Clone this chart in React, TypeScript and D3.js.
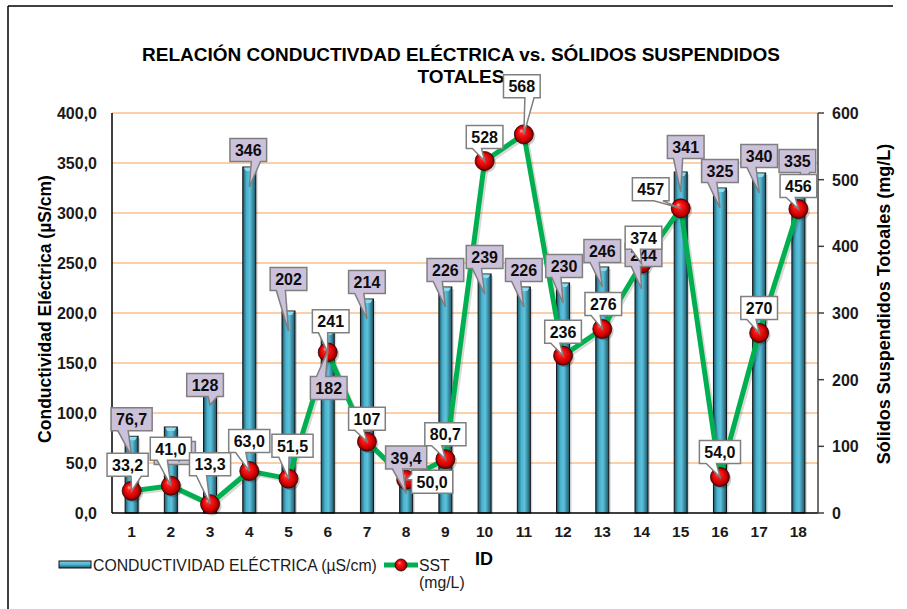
import React from 'react';
import * as d3 from 'd3';

// chart data
const ids = ['1', '2', '3', '4', '5', '6', '7', '8', '9', '10', '11', '12', '13', '14', '15', '16', '17', '18'];
const conductividad = [76.7, 86.0, 128, 346, 202, 182, 214, 39.4, 226, 239, 226, 230, 246, 244, 341, 325, 340, 335];
const sst = [33.2, 41.0, 13.3, 63.0, 51.5, 241, 107, 50.0, 80.7, 528, 568, 236, 276, 374, 457, 54.0, 270, 456];
const leftTicks = [0, 50, 100, 150, 200, 250, 300, 350, 400];
const rightTicks = [0, 100, 200, 300, 400, 500, 600];

// callout nudges (px) – label placement as in the source sheet
const barLabelShift = [[0, -17], [4, 26], [-5, 0], [-1, -17], [0, -32], [1, 57], [0, -17], [0, -16], [0, -17], [0, -17], [0, -17], [1, -17], [0, -16], [2, -14], [5, -25], [0, -17], [0, -17], [-1, -17]];
const sstLabelShift = [[-4, -26], [0, -37], [0, -40], [0, -30], [4, -33], [3, -31], [0, -23], [26, 2], [0, -25], [0, -24], [-2, -48], [0, -24], [1, -25], [2, -26], [-30, -19], [0, -25], [0, -25], [0, -23]];

const FONT = 'Arial, "Liberation Sans", sans-serif';
const W = 907;
const H = 609;
const margin = { top: 113, right: 89, bottom: 96, left: 112 };

const fmtLabel = (v: number) => (v < 100 ? v.toFixed(1).replace('.', ',') : String(Math.round(v)));

// Office "wedgeRectCallout" outline
function calloutPath(cx: number, cy: number, w: number, h: number, tx: number, ty: number) {
  const l = cx - w / 2, r = cx + w / 2, t = cy - h / 2, b = cy + h / 2;
  const dx = tx - cx, dy = ty - cy;
  const dq = (dx * h) / w;
  const dz = Math.abs(dy) - Math.abs(dq);
  const p: [number, number][] = [];
  if (dz > 0) {
    const x1 = l + (w * (dx > 0 ? 7 : 2)) / 12;
    const x2 = l + (w * (dx > 0 ? 10 : 5)) / 12;
    if (dy < 0) {
      p.push([l, t], [x1, t], [tx, ty], [x2, t], [r, t], [r, b], [l, b]);
    } else {
      p.push([l, t], [r, t], [r, b], [x2, b], [tx, ty], [x1, b], [l, b]);
    }
  } else {
    const y1 = t + (h * (dy > 0 ? 7 : 2)) / 12;
    const y2 = t + (h * (dy > 0 ? 10 : 5)) / 12;
    if (dx < 0) {
      p.push([l, t], [r, t], [r, b], [l, b], [l, y2], [tx, ty], [l, y1]);
    } else {
      p.push([l, t], [r, t], [r, y1], [tx, ty], [r, y2], [r, b], [l, b]);
    }
  }
  return 'M' + p.map(d => d.join(',')).join('L') + 'Z';
}

const textWidth = (s: string) => {
  let w = 0;
  for (const c of s) w += c === ',' ? 0.278 : 0.556;
  return w * 16;
};

const Callout = ({ text, cx, cy, tx, ty, fill }: any) => {
  const w = textWidth(text) + 10;
  const h = 23;
  return (
    <g>
      <path d={calloutPath(cx, cy, w, h, tx, ty)} fill={fill} stroke="#7f7f7f" strokeWidth={1.5} />
      <text x={cx} y={cy + 6} textAnchor="middle" fontFamily={FONT} fontWeight="bold" fontSize={16} fill="#0d0d0d">
        {text}
      </text>
    </g>
  );
};

export default function App() {
  const innerW = W - margin.left - margin.right;
  const x = d3.scaleBand<string>().domain(ids).range([margin.left, margin.left + innerW]).padding(0);
  const yL = d3.scaleLinear().domain([0, 400]).range([H - margin.bottom, margin.top]);
  const yR = d3.scaleLinear().domain([0, 600]).range([H - margin.bottom, margin.top]);
  const cx = (id: string) => (x(id) as number) + x.bandwidth() / 2;
  const barW = 13;
  const x0 = margin.left;
  const x1 = margin.left + innerW;
  const yBase = yL(0);

  const line = d3.line<number>()
    .x((_, i) => cx(ids[i]))
    .y(d => yR(d));

  return (
    <svg width={W} height={H} style={{ position: 'absolute', left: 0, top: 0, background: '#fff' }}>
      <defs>
        <linearGradient id="barGrad" x1="0" x2="1" y1="0" y2="0">
          <stop offset="0" stopColor="#1c5568" />
          <stop offset="0.3" stopColor="#4cb3cf" />
          <stop offset="0.55" stopColor="#5cc2dc" />
          <stop offset="1" stopColor="#1d5466" />
        </linearGradient>
        <linearGradient id="legGrad" x1="0" x2="0" y1="0" y2="1">
          <stop offset="0" stopColor="#7fd3e8" />
          <stop offset="0.5" stopColor="#4cb3cf" />
          <stop offset="1" stopColor="#1d5466" />
        </linearGradient>
        <radialGradient id="ballGrad" cx="0.5" cy="0.5" r="0.5" fx="0.35" fy="0.3">
          <stop offset="0" stopColor="#ffb0b0" />
          <stop offset="0.25" stopColor="#ff2020" />
          <stop offset="0.75" stopColor="#d00000" />
          <stop offset="1" stopColor="#6a0000" />
        </radialGradient>
      </defs>

      {/* outer frame (left and top visible) */}
      <line x1={8} y1={6} x2={893} y2={6} stroke="#000" strokeWidth={1.5} />
      <line x1={8} y1={6} x2={8} y2={H} stroke="#000" strokeWidth={1.5} />

      {/* title */}
      <text x={461} y={61} textAnchor="middle" fontFamily={FONT} fontWeight="bold" fontSize={19} fill="#000">
        RELACIÓN CONDUCTIVDAD ELÉCTRICA vs. SÓLIDOS SUSPENDIDOS
      </text>
      <text x={461} y={83} textAnchor="middle" fontFamily={FONT} fontWeight="bold" fontSize={19} fill="#000">
        TOTALES
      </text>

      {/* grid */}
      {leftTicks.filter(t => t > 0).map(t => (
        <line key={t} x1={x0} x2={x1} y1={yL(t)} y2={yL(t)} stroke="#fbbf8c" strokeWidth={1.5} />
      ))}

      {/* bars */}
      {conductividad.map((v, i) => {
        const bx = cx(ids[i]) - barW / 2;
        const top = yL(v);
        return (
          <g key={'b' + i}>
            <rect x={bx + 2} y={top + 2} width={barW} height={yBase - top - 2} fill="#000" opacity={0.15} />
            <rect x={bx} y={top} width={barW} height={yBase - top} fill="url(#barGrad)" stroke="#111" strokeWidth={1} />
            <path d={`M${bx + 1},${top + 0.5}L${bx + barW - 1},${top + 0.5}L${bx + barW - 3},${top + 4}L${bx + 3},${top + 4}Z`} fill="#8edcee" />
          </g>
        );
      })}

      {/* axes */}
      <line x1={x0} x2={x0} y1={margin.top} y2={yBase} stroke="#000" strokeWidth={1.5} />
      <line x1={x0} x2={x1} y1={yBase} y2={yBase} stroke="#000" strokeWidth={1.5} />
      <line x1={x1} x2={x1} y1={margin.top} y2={yBase} stroke="#404040" strokeWidth={1.5} />
      {rightTicks.map(t => (
        <g key={'rt' + t}>
          <line x1={x1} x2={x1 + 6} y1={yR(t)} y2={yR(t)} stroke="#404040" strokeWidth={1.5} />
          <text x={832} y={yR(t) + 6} fontFamily={FONT} fontWeight="bold" fontSize={16} fill="#1a1a1a">{t}</text>
        </g>
      ))}
      {leftTicks.map(t => (
        <text key={'lt' + t} x={97} y={yL(t) + 6} textAnchor="end" fontFamily={FONT} fontWeight="bold" fontSize={16} fill="#1a1a1a">
          {t.toFixed(1).replace('.', ',')}
        </text>
      ))}
      {ids.map(id => (
        <text key={'x' + id} x={cx(id)} y={537} textAnchor="middle" fontFamily={FONT} fontWeight="bold" fontSize={15.5} fill="#1a1a1a">
          {id}
        </text>
      ))}

      {/* axis titles */}
      <text transform="translate(51,309) rotate(-90)" textAnchor="middle" fontFamily={FONT} fontWeight="bold" fontSize={17.5} fill="#000">
        Conductividad Eléctrica (µS/cm)
      </text>
      <text transform="translate(890,304) rotate(-90)" textAnchor="middle" fontFamily={FONT} fontWeight="bold" fontSize={18} fill="#000">
        Sólidos Suspendidos Totoales (mg/L)
      </text>
      <text x={484} y={565} textAnchor="middle" fontFamily={FONT} fontWeight="bold" fontSize={18} fill="#000">ID</text>

      {/* SST line */}
      <path d={line(sst) || ''} fill="none" stroke="#000" strokeOpacity={0.15} strokeWidth={5} transform="translate(2,2)" />
      <path d={line(sst) || ''} fill="none" stroke="#00b050" strokeWidth={5} strokeLinejoin="round" />
      {sst.map((v, i) => (
        <g key={'m' + i}>
          <circle cx={cx(ids[i]) + 2} cy={yR(v) + 2} r={9.5} fill="#000" opacity={0.2} />
          <circle cx={cx(ids[i])} cy={yR(v)} r={9.5} fill="url(#ballGrad)" stroke="#3a0000" strokeWidth={0.8} />
        </g>
      ))}

      {/* bar callouts */}
      {conductividad.map((v, i) => {
        const bx = cx(ids[i]);
        const top = yL(v);
        return (
          <Callout key={'bl' + i} text={fmtLabel(v)} cx={bx + barLabelShift[i][0]} cy={top + barLabelShift[i][1]}
            tx={bx} ty={top + 20} fill="#ccc1da" />
        );
      })}
      {/* SST callouts */}
      {sst.map((v, i) => {
        const px = cx(ids[i]);
        const py = yR(v);
        return (
          <Callout key={'sl' + i} text={fmtLabel(v)} cx={px + sstLabelShift[i][0]} cy={py + sstLabelShift[i][1]}
            tx={px} ty={py} fill="#ffffff" />
        );
      })}

      {/* legend */}
      <rect x={59} y={561} width={32} height={7} fill="url(#legGrad)" stroke="#111" strokeWidth={1} />
      <text x={93} y={571} fontFamily={FONT} fontSize={15.8} fill="#1a1a1a">CONDUCTIVIDAD ELÉCTRICA (µS/cm)</text>
      <line x1={384} x2={418} y1={565} y2={565} stroke="#00b050" strokeWidth={5} />
      <circle cx={401} cy={565} r={6} fill="url(#ballGrad)" stroke="#3a0000" strokeWidth={0.8} />
      <text x={419} y={571} fontFamily={FONT} fontSize={15.8} fill="#1a1a1a">SST</text>
      <text x={419} y={588} fontFamily={FONT} fontSize={15.8} fill="#1a1a1a">(mg/L)</text>
    </svg>
  );
}
